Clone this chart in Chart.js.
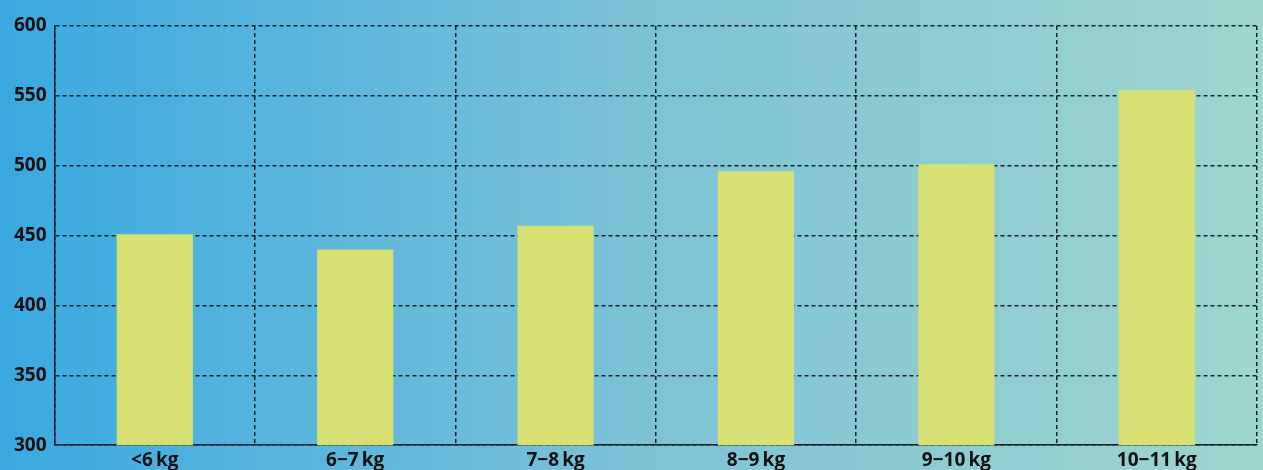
<!DOCTYPE html>
<html>
<head>
<meta charset="utf-8">
<script src="https://cdn.jsdelivr.net/npm/chart.js@4.4.1/dist/chart.umd.min.js"></script>
<style>
  html, body { margin: 0; padding: 0; overflow: hidden; }
  body {
    width: 1263px; height: 470px;
    background: linear-gradient(to right, #3aa9e1 0%, #7cc2d7 50%, #9fd6cc 100%);
  }
  #wrap { position: relative; width: 1263px; height: 476px; }
</style>
</head>
<body>
<div id="wrap"><canvas id="bar-chart"></canvas></div>
<script>
// weight classes and their values
const categories = ['<6\u2009kg', '6\u22127\u2009kg', '7\u22128\u2009kg', '8\u22129\u2009kg', '9\u221210\u2009kg', '10\u221211\u2009kg'];
const values = [451, 440, 457, 496, 501, 554];
const yTicks = [300, 350, 400, 450, 500, 550, 600];

const gridColor = '#14232b';
const labelFont = { family: '"Open Sans", "DejaVu Sans", sans-serif', size: 19, weight: 'bold' };

const ctx = document.getElementById('bar-chart').getContext('2d');
new Chart(ctx, {
  type: 'bar',
  data: {
    labels: categories,
    datasets: [
      {
        data: values,
        backgroundColor: '#d7e072',
        borderWidth: 0,
        barPercentage: 0.38,
        categoryPercentage: 1.0,
      },
    ],
  },
  options: {
    responsive: true,
    maintainAspectRatio: false,
    animation: false,
    layout: { padding: { top: 26, right: 6, left: 6, bottom: 0 } },
    plugins: {
      legend: { display: false },
      tooltip: { enabled: false },
    },
    scales: {
      x: {
        grid: {
          color: gridColor,
          lineWidth: 1.5,
          drawTicks: false,
          offset: true,
        },
        border: { display: true, color: gridColor, width: 1.5, dash: [4, 3] },
        ticks: { color: '#111', font: labelFont, padding: 4 },
      },
      y: {
        min: 300,
        max: 600,
        afterBuildTicks: axis => {
          axis.ticks = yTicks.map(v => ({ value: v }));
        },
        grid: {
          color: gridColor,
          lineWidth: 1.5,
          drawTicks: false,
        },
        border: { display: true, color: gridColor, width: 1.5, dash: [4, 3] },
        ticks: { color: '#111', font: labelFont, padding: 8 },
      },
    },
  },
});
</script>
</body>
</html>
